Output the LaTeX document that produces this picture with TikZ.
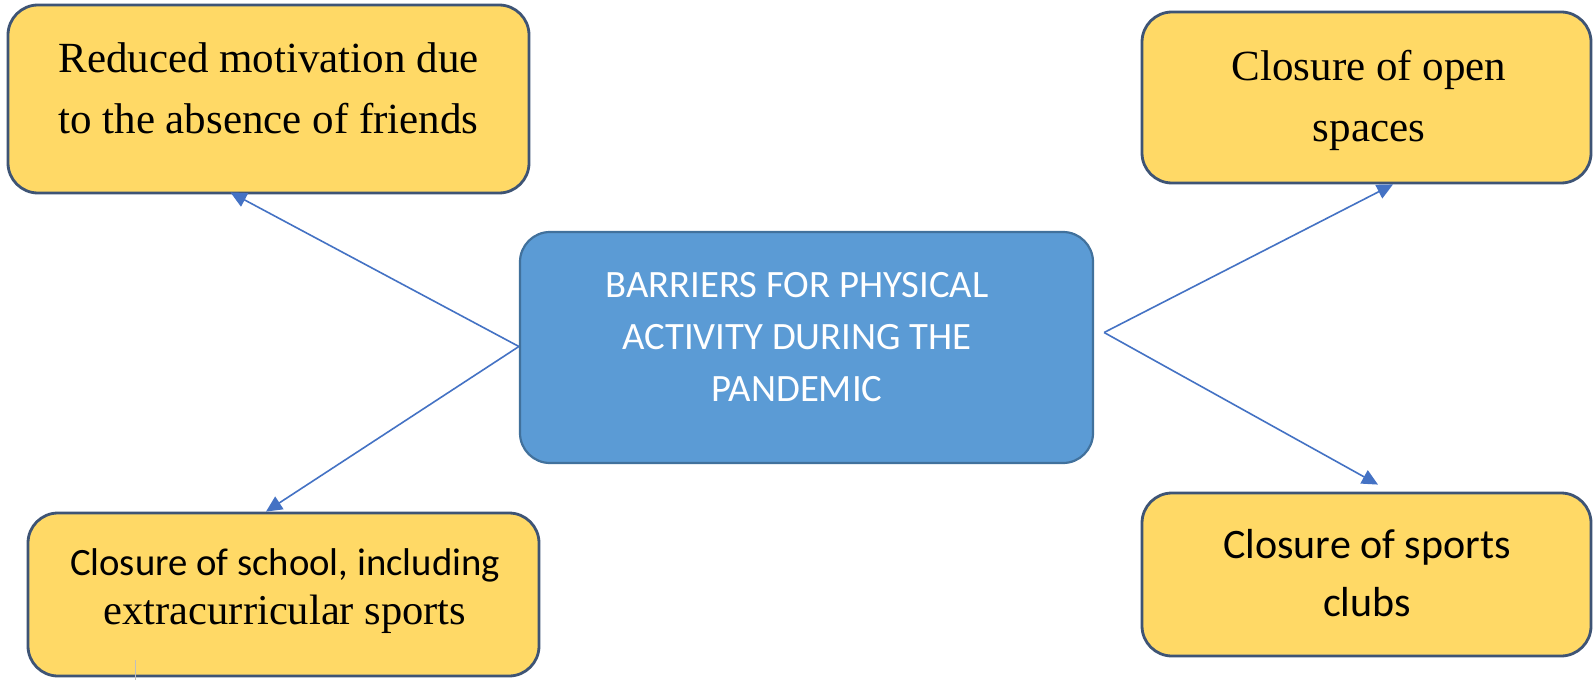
\documentclass[tikz,border=0pt]{standalone}
\usepackage{fontspec}
\setmainfont{Liberation Serif}
\newfontfamily\calib{Carlito}
\usetikzlibrary{arrows.meta}
\definecolor{boxyellow}{HTML}{FFD966}
\definecolor{boxedge}{HTML}{3E5475}
\definecolor{cblue}{HTML}{5B9BD5}
\definecolor{cedge}{HTML}{41719C}
\definecolor{arrowblue}{HTML}{4472C4}
\tikzset{
  ybox/.style={draw=boxedge, line width=2.8pt, fill=boxyellow, rounded corners=30pt, inner sep=0pt},
  cbox/.style={draw=cedge, line width=2.2pt, fill=cblue, rounded corners=30pt, inner sep=0pt},
  serif/.style={font=\fontsize{43}{61}\selectfont, align=center, inner sep=0pt},
  sans/.style={font=\calib\fontsize{42}{58}\selectfont, align=center, inner sep=0pt},
  ctext/.style={font=\calib\fontsize{38.7}{52}\selectfont, text=white, align=center, inner sep=0pt},
  conn/.style={draw=arrowblue, line width=1.6pt, -{Triangle[length=16pt,width=15pt]}},
}
\begin{document}
\begin{tikzpicture}[x=1pt,y=-1pt]
\useasboundingbox (0,0) rectangle (1594,682);
\fill[white] (0,0) rectangle (1594,682);
% boxes
\node[ybox, minimum width=521pt, minimum height=188pt] (tl) at (268.5,99) {};
\node[cbox, minimum width=573pt, minimum height=231pt] (c) at (806.5,347.5) {};
\node[ybox, minimum width=511pt, minimum height=163pt] (bl) at (283.5,594.5) {};
\node[ybox, minimum width=449pt, minimum height=171pt] (tr) at (1366.5,97.5) {};
\node[ybox, minimum width=449pt, minimum height=163pt] (br) at (1366.5,574.5) {};
% texts
\node[serif] (tlt) at (268.5,88) {Reduced motivation due\\to the absence of friends};
\node[ctext] (ct) at (797,337) {BARRIERS FOR PHYSICAL\\ACTIVITY DURING THE\\PANDEMIC};
\node[inner sep=0pt, align=center] (blt) at (285,591) {{\calib\fontsize{38.7}{52}\selectfont Closure of school, including}\\[12pt]{\fontsize{42.5}{52}\selectfont extracurricular sports}};
\node[serif] (trt) at (1369,100) {Closure of open\\spaces};
\node[sans] (brt) at (1367,573) {Closure of sports\\clubs};
% faint artifact line
\draw[gray!50, line width=0.8pt] (135,660) -- (135,680);
% connectors
\coordinate (cl) at ([yshift=1pt]c.west);
\coordinate (cr) at ([xshift=10pt,yshift=15pt]c.east);
\draw[conn] (cl) -- ([xshift=-38pt,yshift=2pt]tl.south);
\draw[conn] (cl) -- ([xshift=-17.5pt]bl.north);
\draw[conn] (cr) -- ([xshift=26.5pt]tr.south);
\draw[conn] (cr) -- ([xshift=11.5pt,yshift=7pt]br.north);
\end{tikzpicture}
\end{document}
